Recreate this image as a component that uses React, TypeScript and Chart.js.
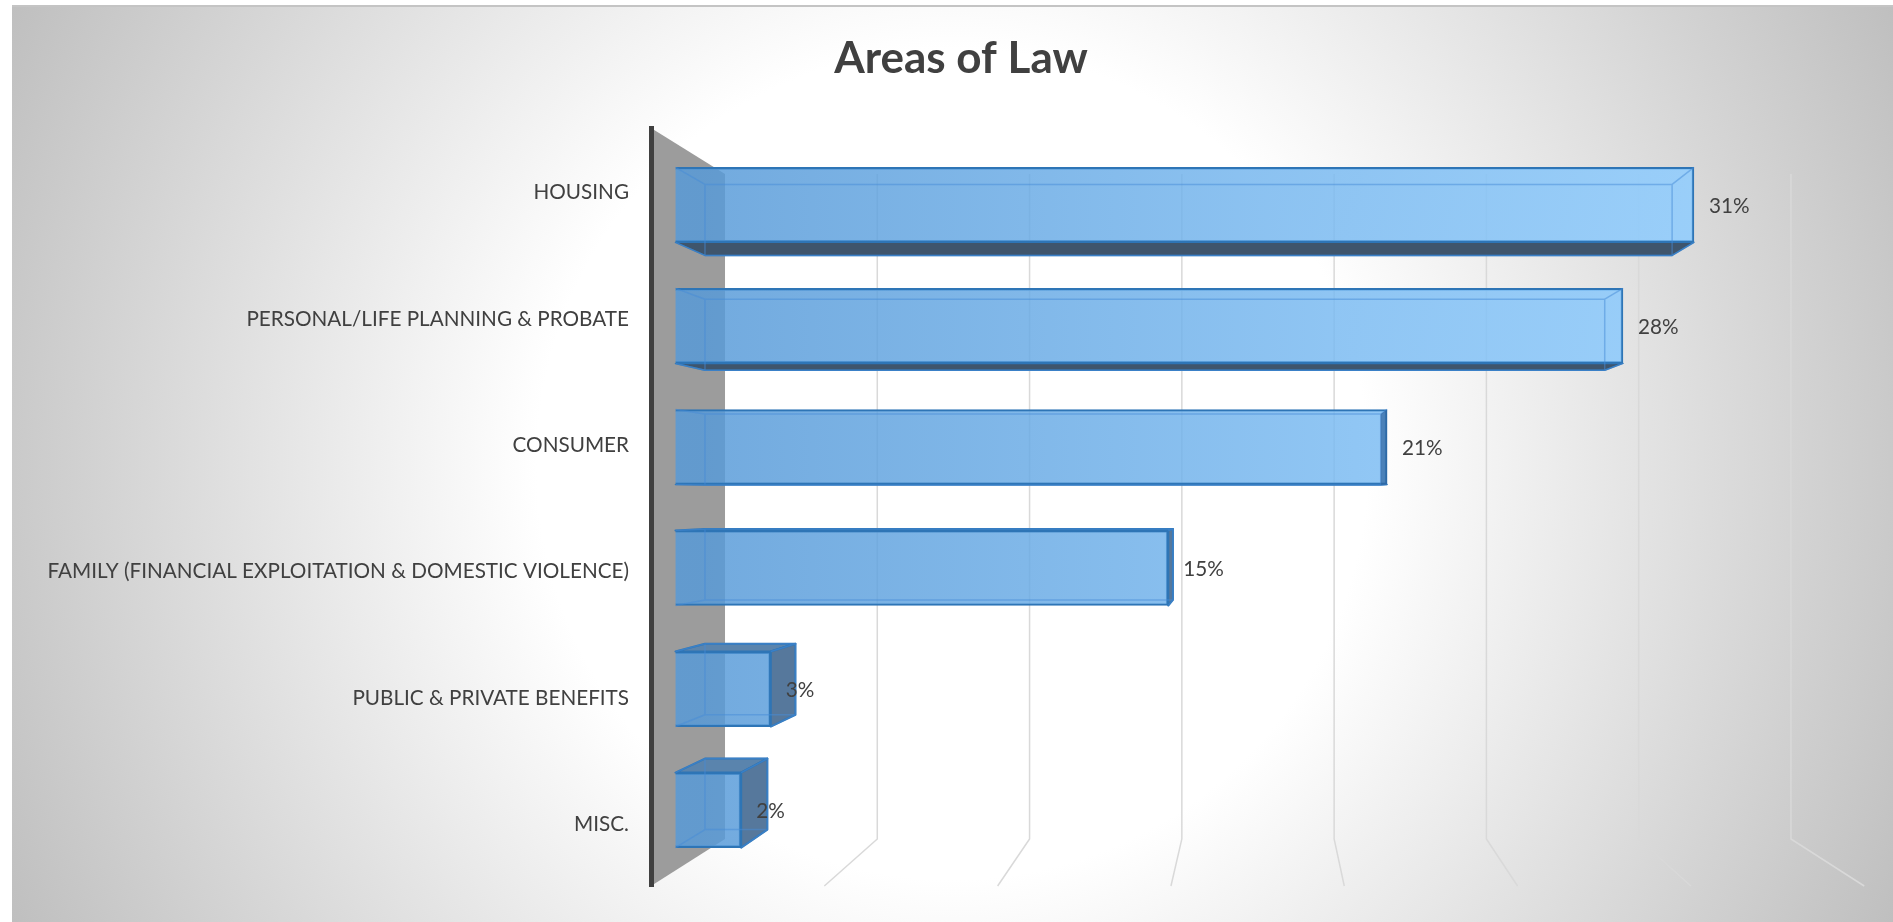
import React, { useEffect, useRef } from "react";
import { Chart, registerables } from "chart.js";

Chart.register(...registerables);

const titleText = "Areas of Law";
const categories = [
  "HOUSING",
  "PERSONAL/LIFE PLANNING & PROBATE",
  "CONSUMER",
  "FAMILY (FINANCIAL EXPLOITATION & DOMESTIC VIOLENCE)",
  "PUBLIC & PRIVATE BENEFITS",
  "MISC.",
];
const barLengths = [31, 28.84, 21.66, 15, 2.9, 2];
const valueLabels = ["31%", "28%", "21%", "15%", "3%", "2%"];
const gridValues = [5, 10, 15, 20, 25, 30, 35];

const W = 1893;
const H = 922;
const FONT = "Lato";
const TEXT = "#404040";
const EDGE = "#2e75b6";
const BACK_HALF = 35.5;
const WALL_BACK_TOP = 174;
const WALL_BACK_BOTTOM = 839;

function poly(ctx: CanvasRenderingContext2D, pts: number[][], fill: string | null, stroke: string | null, lw = 1.5) {
  ctx.beginPath();
  pts.forEach((p, i) => (i ? ctx.lineTo(p[0], p[1]) : ctx.moveTo(p[0], p[1])));
  ctx.closePath();
  if (fill) {
    ctx.fillStyle = fill;
    ctx.fill();
  }
  if (stroke) {
    ctx.strokeStyle = stroke;
    ctx.lineWidth = lw;
    ctx.stroke();
  }
}

function geometry(chart: any, i: number) {
  const bar = chart.getDatasetMeta(0).data[i];
  const s = chart.scales;
  const top = bar.y - bar.height / 2;
  const bottom = bar.y + bar.height / 2;
  const bc = s.yBarBack.getPixelForValue(i);
  return {
    fl: s.xBars.getPixelForValue(0),
    fr: bar.x,
    ft: top,
    fb: bottom,
    cy: bar.y,
    bl: s.xBarBack.getPixelForValue(0),
    br: s.xBarBack.getPixelForValue(barLengths[i]),
    bt: bc - BACK_HALF,
    bb: bc + BACK_HALF,
  };
}

const scene3d = {
  id: "scene3d",
  beforeDraw(chart: any) {
    const { ctx, chartArea, scales } = chart;
    ctx.save();
    ctx.fillStyle = "#ffffff";
    ctx.fillRect(0, 0, W, H);
    const g = ctx.createRadialGradient(952, 464, 0, 952, 464, 1046);
    g.addColorStop(0, "#ffffff");
    g.addColorStop(0.397, "#ffffff");
    g.addColorStop(1, "#bfbfbf");
    ctx.fillStyle = g;
    ctx.fillRect(12, 6, W - 12, H - 6);
    ctx.fillStyle = "#c4c4c4";
    ctx.fillRect(12, 5, W - 12, 2);

    const backZero = scales.xBack.getPixelForValue(0);
    poly(
      ctx,
      [
        [chartArea.left, chartArea.top],
        [backZero, WALL_BACK_TOP],
        [backZero, WALL_BACK_BOTTOM],
        [chartArea.left, chartArea.bottom],
      ],
      "#9c9c9c",
      null
    );

    ctx.strokeStyle = "#d9d9d9";
    ctx.lineWidth = 1.5;
    gridValues.forEach((v) => {
      const xb = scales.xBack.getPixelForValue(v);
      const xf = scales.x.getPixelForValue(v);
      ctx.beginPath();
      ctx.moveTo(xb, WALL_BACK_TOP);
      ctx.lineTo(xb, WALL_BACK_BOTTOM);
      ctx.lineTo(xf, chartArea.bottom);
      ctx.stroke();
    });
    ctx.restore();
  },
  beforeDatasetsDraw(chart: any) {
    const { ctx } = chart;
    ctx.save();
    ctx.lineJoin = "round";
    categories.forEach((_, i) => {
      const b = geometry(chart, i);
      if (b.bb > b.fb) {
        poly(ctx, [[b.fl, b.fb], [b.fr, b.fb], [b.br, b.bb], [b.bl, b.bb]], "#3f556c", EDGE, 1.5);
      }
      if (b.bt < b.ft) {
        poly(ctx, [[b.fl, b.ft], [b.fr, b.ft], [b.br, b.bt], [b.bl, b.bt]], "#5a84ad", EDGE, 2);
      }
      if (b.br > b.fr) {
        poly(ctx, [[b.fr, b.ft], [b.br, b.bt], [b.br, b.bb], [b.fr, b.fb]], "#56789c", EDGE, 2);
      }
    });
    ctx.restore();
  },
  afterDatasetsDraw(chart: any) {
    const { ctx } = chart;
    ctx.save();
    const inner = "rgba(70,140,215,0.5)";
    categories.forEach((_, i) => {
      const b = geometry(chart, i);
      ctx.strokeStyle = inner;
      ctx.lineWidth = 1.5;
      ctx.beginPath();
      ctx.moveTo(b.bl, b.bt);
      ctx.lineTo(b.br, b.bt);
      ctx.lineTo(b.br, b.bb);
      ctx.lineTo(b.bl, b.bb);
      ctx.closePath();
      ctx.moveTo(b.fl, b.ft);
      ctx.lineTo(b.bl, b.bt);
      ctx.moveTo(b.fr, b.ft);
      ctx.lineTo(b.br, b.bt);
      ctx.moveTo(b.fr, b.fb);
      ctx.lineTo(b.br, b.bb);
      ctx.moveTo(b.fl, b.fb);
      ctx.lineTo(b.bl, b.bb);
      ctx.stroke();
      if (b.br < b.fr && b.fr - b.br < 8) {
        poly(ctx, [[b.br, b.bt], [b.fr, b.ft], [b.fr, b.fb], [b.br, b.bb]], "rgba(46,100,160,0.7)", null);
      }
      ctx.fillStyle = TEXT;
      ctx.font = `20.7px ${FONT}`;
      ctx.textAlign = "left";
      ctx.textBaseline = "middle";
      ctx.fillText(valueLabels[i], b.fr + 15, b.cy + 1);
    });
    ctx.restore();
  },
};

export default function App() {
  const ref = useRef<HTMLCanvasElement | null>(null);
  useEffect(() => {
    const canvas = ref.current!;
    const leftPad = 29;
    const chart = new Chart(canvas, {
      type: "bar",
      data: {
        labels: categories,
        datasets: [
          {
            data: barLengths.map((v, i) => ({ x: v, y: i })) as any,
            xAxisID: "xBars",
            yAxisID: "yBars",
            barThickness: 75,
            clip: false as any,
            borderColor: EDGE,
            borderWidth: 2,
            backgroundColor: (c: any) => {
              const g = c.chart.ctx.createLinearGradient(700, 0, 1690, 0);
              g.addColorStop(0, "rgba(87,154,216,0.84)");
              g.addColorStop(1, "rgba(141,204,255,0.84)");
              return g;
            },
          },
        ],
      },
      options: {
        indexAxis: "y",
        animation: false,
        responsive: false,
        devicePixelRatio: 1,
        layout: { padding: { left: leftPad, right: 0, top: 32, bottom: 36 } },
        plugins: {
          legend: { display: false },
          tooltip: { enabled: false },
          title: {
            display: true,
            text: titleText,
            color: TEXT,
            font: { family: FONT, size: 44, weight: "bold" },
            padding: { top: 0, bottom: 43.2 },
          },
        },
        scales: {
          y: {
            type: "category",
            axis: "y",
            position: "left",
            afterFit: (s: any) => {
              s.width = 651 - leftPad;
            },
            grid: { display: false, drawTicks: false },
            border: { display: true, color: "#404040", width: 5 },
            ticks: {
              color: TEXT,
              font: { family: FONT, size: 20.7 },
              padding: 22,
              labelOffset: 1.5,
              autoSkip: false,
              maxRotation: 0,
            },
          },
          x: { type: "linear", axis: "x", display: false, min: 0, max: 35.83, ticks: { stepSize: 5 } },
          xBars: { type: "linear", axis: "x", display: false, min: -0.745, max: 37.06 },
          xBarBack: { type: "linear", axis: "x", display: false, min: -1.73, max: 38.08 },
          xBack: { type: "linear", axis: "x", display: false, min: -2.43, max: 38.35 },
          yBars: { type: "linear", axis: "y", display: false, offset: false, reverse: true, min: -0.635, max: 5.627 },
          yBarBack: { type: "linear", axis: "y", display: false, offset: false, reverse: true, min: -0.8, max: 5.8 },
        },
      } as any,
      plugins: [scene3d],
    });
    return () => chart.destroy();
  }, []);
  return (
    <div style={{ position: "fixed", left: 0, top: 0, width: W, height: H }}>
      <canvas ref={ref} width={W} height={H} style={{ display: "block" }} />
    </div>
  );
}
